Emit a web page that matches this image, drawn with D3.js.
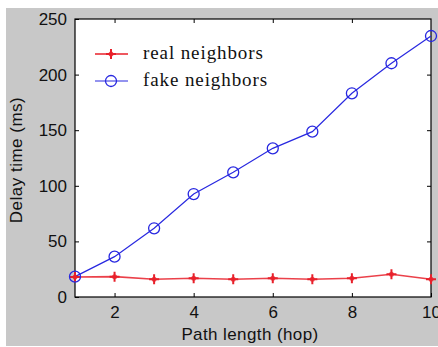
<!DOCTYPE html>
<html><head><meta charset="utf-8">
<script src="https://cdn.jsdelivr.net/npm/d3@7"></script>
<style>body{margin:0;background:#fff;}svg{display:block;}</style>
</head><body>
<svg id="c" width="438" height="347"></svg>
<script>
const hops = [1,2,3,4,5,6,7,8,9,10];
const realNeighbors = [18,18.3,15.9,16.8,15.9,16.8,15.9,16.8,20.4,15.9];
const fakeNeighbors = [18.3,36.3,61.8,92.6,112.1,133.7,148.7,183.2,210.2,234.7];
const xTicks = [2,4,6,8,10];
const yTicks = [0,50,100,150,200,250];
const seriesNames = ["real neighbors","fake neighbors"];

const svg = d3.select("#c");
const W=438,H=347;
const m={l:75,t:19,r:431,b:297};
svg.append("rect").attr("x",6).attr("y",8).attr("width",W-6).attr("height",338).attr("fill","#c8c8c8");
svg.append("rect").attr("x",m.l).attr("y",m.t).attr("width",m.r-m.l).attr("height",m.b-m.t).attr("fill","#fff");

const x=d3.scaleLinear().domain([1,10]).range([m.l,m.r]);
const y=d3.scaleLinear().domain([0,250]).range([m.b,m.t]);
const tickFont="'Liberation Sans', Arial, sans-serif";

const gx=svg.append("g").attr("transform",`translate(0,${m.b})`)
  .call(d3.axisBottom(x).tickValues(xTicks).tickSizeInner(-4).tickSizeOuter(0).tickPadding(9));
const gxt=svg.append("g").attr("transform",`translate(0,${m.t})`)
  .call(d3.axisTop(x).tickValues(xTicks.filter(v=>v<10)).tickSizeInner(-4).tickSizeOuter(0).tickFormat(""));
const gy=svg.append("g").attr("transform",`translate(${m.l},0)`)
  .call(d3.axisLeft(y).tickValues(yTicks).tickSizeInner(-4).tickSizeOuter(0).tickPadding(8));
const gyr=svg.append("g").attr("transform",`translate(${m.r},0)`)
  .call(d3.axisRight(y).tickValues(yTicks.filter(v=>v>0&&v<250)).tickSizeInner(-4).tickSizeOuter(0).tickFormat(""));
[gx,gxt,gy,gyr].forEach(g=>{
  g.select(".domain").remove();
  g.selectAll("line").attr("stroke","#000");
  g.selectAll("text").attr("font-family",tickFont).attr("font-size",17).attr("fill","#111");
});
svg.append("rect").attr("x",m.l).attr("y",m.t).attr("width",m.r-m.l).attr("height",m.b-m.t)
  .attr("fill","none").attr("stroke","#000").attr("stroke-width",1.2);

const clipG=svg.append("g");
const line=d3.line().x((d,i)=>x(hops[i])).y(d=>y(d));
const red="#e8202a", blue="#2828e0";
clipG.append("path").datum(realNeighbors).attr("d",line).attr("fill","none").attr("stroke",red).attr("stroke-width",1.6).attr("opacity",0.85);
clipG.append("path").datum(fakeNeighbors).attr("d",line).attr("fill","none").attr("stroke",blue).attr("stroke-width",1.2);
function plus(g,cx,cy,col){
  g.append("path").attr("d",`M${cx-5},${cy}H${cx+5}M${cx},${cy-5}V${cy+5}`).attr("stroke",col).attr("stroke-width",2);
  g.append("circle").attr("cx",cx).attr("cy",cy).attr("r",2.5).attr("fill",col).attr("opacity",0.8);
}
realNeighbors.forEach((v,i)=>plus(clipG,x(hops[i]),y(v),red));
clipG.selectAll("circle.f").data(fakeNeighbors).enter().append("circle").attr("class","f")
  .attr("cx",(d,i)=>x(hops[i])).attr("cy",d=>y(d)).attr("r",5.5).attr("fill","none").attr("stroke",blue).attr("stroke-width",1.3);

// legend
const lg=svg.append("g");
const rows=[{y:54,col:red,name:seriesNames[0],mk:"plus"},{y:81,col:blue,name:seriesNames[1],mk:"o"}];
rows.forEach(r=>{
  lg.append("line").attr("x1",95).attr("x2",128).attr("y1",r.y).attr("y2",r.y).attr("stroke",r.col).attr("stroke-width",r.mk==="plus"?1.6:1.2);
  if(r.mk==="plus") plus(lg,111,r.y,r.col);
  else lg.append("circle").attr("cx",111).attr("cy",r.y).attr("r",5.5).attr("fill","none").attr("stroke",r.col).attr("stroke-width",1.3);
  lg.append("text").attr("x",143).attr("y",r.y+5).text(r.name)
    .attr("font-family","'Liberation Serif','Times New Roman',serif").attr("font-size",19).attr("letter-spacing",0.9).attr("fill","#111");
});

svg.append("text").attr("x",(m.l+m.r)/2 - 3).attr("y",340).attr("text-anchor","middle")
  .attr("font-family",tickFont).attr("font-size",17).attr("letter-spacing",0.4).attr("fill","#111").text("Path length (hop)");
svg.append("text").attr("transform",`translate(22,160) rotate(-90)`).attr("text-anchor","middle")
  .attr("font-family",tickFont).attr("font-size",17).attr("letter-spacing",0.5).attr("fill","#111").text("Delay time (ms)");
</script>
</body></html>
